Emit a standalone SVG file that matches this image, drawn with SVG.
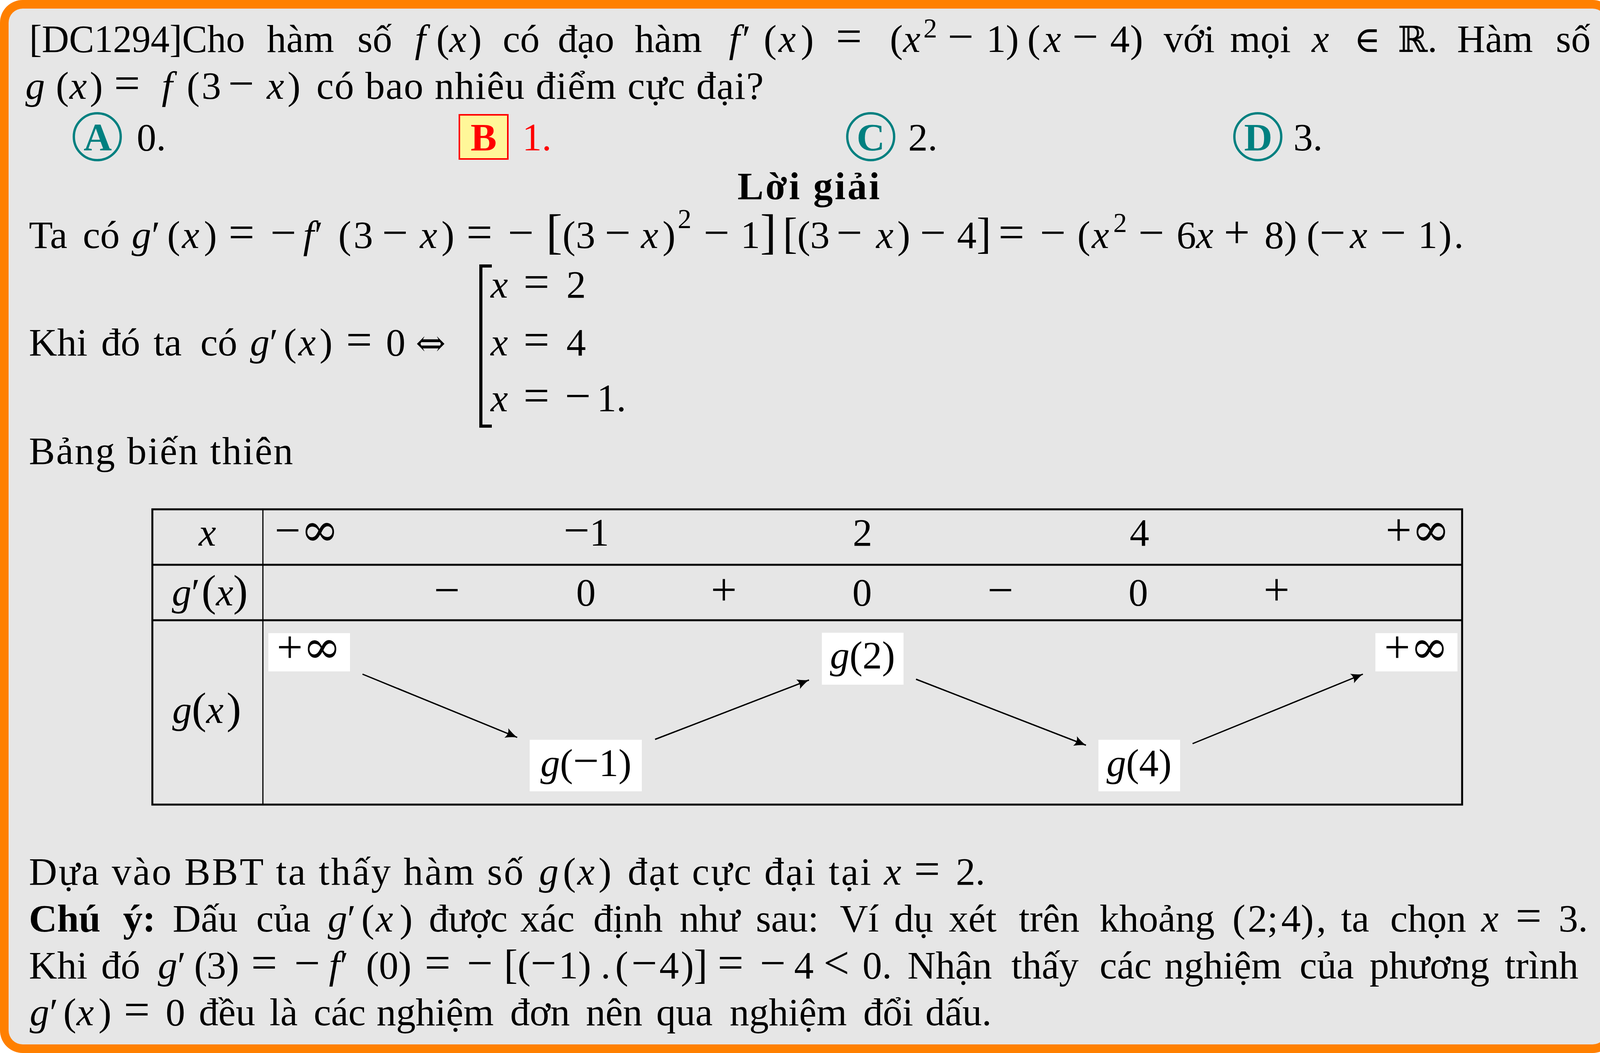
<svg xmlns="http://www.w3.org/2000/svg" width="4135" height="2696" viewBox="0 0 4135 2696">
<defs>
<style>
text{font-family:"Liberation Serif","DejaVu Serif",serif;font-size:100px;fill:#000}
.i{font-style:italic}
.b{font-weight:bold}
.op{font-size:118px}
.sym{font-family:"DejaVu Serif",serif;font-size:92px}
.inf{font-family:"DejaVu Serif",serif;font-size:118px}
.sup{font-size:70px}
.lab{font-weight:bold;fill:#008080;text-anchor:middle}
.ring{fill:none;stroke:#008080;stroke-width:6}
.grid{fill:none;stroke:#000;stroke-width:5}
.box{fill:#fff}
.mid{text-anchor:middle}
.end{text-anchor:end}
.arr{fill:none;stroke:#000;stroke-width:3.5;marker-end:url(#ah)}
</style>
<marker id="ah" markerUnits="userSpaceOnUse" markerWidth="40" markerHeight="30" viewBox="-34 -15 40 30" refX="0" refY="0" orient="auto">
<path d="M0,0 Q-14,-4 -30,-13 Q-22,0 -30,13 Q-14,4 0,0 Z" fill="#000"/>
</marker>
</defs>
<g id="frame">
<rect x="0" y="0" width="4135" height="2696" rx="58" fill="#ff8000"/>
<rect x="22" y="22" width="4091" height="2652" rx="36" fill="#e6e6e6"/>
</g>
<g id="question">
<text x="75" y="133" textLength="552" lengthAdjust="spacingAndGlyphs">[DC1294]Cho</text>
<text y="133"><tspan x="683">hàm</tspan><tspan x="915">số</tspan><tspan x="1062" class="i">f</tspan><tspan x="1117">(</tspan><tspan x="1150" class="i">x</tspan><tspan x="1200">)</tspan><tspan x="1287">có</tspan><tspan x="1428">đạo</tspan><tspan x="1625">hàm</tspan><tspan x="1866" class="i">f</tspan><tspan x="1900">′</tspan><tspan x="1955">(</tspan><tspan x="1993" class="i">x</tspan><tspan x="2050">)</tspan><tspan x="2140" class="op">=</tspan><tspan x="2278">(</tspan><tspan x="2312" class="i">x</tspan><tspan x="2364" y="96" class="sup">2</tspan><tspan x="2426" y="133" class="op">−</tspan><tspan x="2525">1</tspan><tspan x="2575">)</tspan><tspan x="2630">(</tspan><tspan x="2672" class="i">x</tspan><tspan x="2745" class="op">−</tspan><tspan x="2842">4</tspan><tspan x="2893">)</tspan><tspan x="2979">với</tspan><tspan x="3149">mọi</tspan><tspan x="3358" class="i">x</tspan><tspan x="3466" class="sym">∈</tspan><tspan x="3578" class="sym">ℝ</tspan><tspan>.</tspan><tspan x="3730">Hàm</tspan><tspan x="3983">số</tspan></text>
<text y="253"><tspan x="65" class="i">g</tspan><tspan x="143">(</tspan><tspan x="178" class="i">x</tspan><tspan x="230">)</tspan><tspan x="292" class="op">=</tspan><tspan x="414" class="i">f</tspan><tspan x="478">(</tspan><tspan x="516">3</tspan><tspan x="584" class="op">−</tspan><tspan x="683" class="i">x</tspan><tspan x="736">)</tspan></text>
<text x="810" y="253" textLength="1145">có bao nhiêu điểm cực đại?</text>
</g>
<g id="answer-A">
<circle class="ring" cx="249" cy="350" r="60"/>
<text class="lab" x="250" y="385">A</text>
<text x="350" y="385">0.</text>
</g>
<g id="answer-B">
<rect x="1176" y="294" width="124" height="113" fill="#fff799" stroke="#ff0000" stroke-width="4"/>
<text class="b mid" x="1238" y="385" style="fill:#ff0000">B</text>
<text x="1337" y="385" style="fill:#ff0000">1.</text>
</g>
<g id="answer-C">
<circle class="ring" cx="2229" cy="350" r="60"/>
<text class="lab" x="2229" y="385">C</text>
<text x="2325" y="385">2.</text>
</g>
<g id="answer-D">
<circle class="ring" cx="3220" cy="350" r="60"/>
<text class="lab" x="3221" y="385">D</text>
<text x="3311" y="385">3.</text>
</g>
<g id="solution">
<text x="1888" y="510" class="b" font-size="104" textLength="364">Lời giải</text>
<text y="635"><tspan x="74">Ta</tspan><tspan x="212">có</tspan><tspan x="337" class="i">g</tspan><tspan x="388">′</tspan><tspan x="428">(</tspan><tspan x="466" class="i">x</tspan><tspan x="522">)</tspan><tspan x="585" class="op">=</tspan><tspan x="692" class="op">−</tspan><tspan x="776" class="i">f</tspan><tspan x="805">′</tspan><tspan x="866">(</tspan><tspan x="905">3</tspan><tspan x="978" class="op">−</tspan><tspan x="1075" class="i">x</tspan><tspan x="1130">)</tspan><tspan x="1194" class="op">=</tspan><tspan x="1300" class="op">−</tspan><tspan x="1398" font-size="125">[</tspan><tspan x="1440">(</tspan><tspan x="1474">3</tspan><tspan x="1548" class="op">−</tspan><tspan x="1641" class="i">x</tspan><tspan x="1696">)</tspan><tspan x="1735" y="584" class="sup">2</tspan><tspan x="1801" y="635" class="op">−</tspan><tspan x="1896">1</tspan><tspan x="1946" font-size="125">]</tspan><tspan x="2004" font-size="112">[</tspan><tspan x="2041">(</tspan><tspan x="2074">3</tspan><tspan x="2141" class="op">−</tspan><tspan x="2243" class="i">x</tspan><tspan x="2297">)</tspan><tspan x="2355" class="op">−</tspan><tspan x="2450">4</tspan><tspan x="2500" font-size="112">]</tspan><tspan x="2556" class="op">=</tspan><tspan x="2662" class="op">−</tspan><tspan x="2758">(</tspan><tspan x="2795" class="i">x</tspan><tspan x="2850" y="594" class="sup">2</tspan><tspan x="2914" y="635" class="op">−</tspan><tspan x="3012">6</tspan><tspan x="3062" class="i">x</tspan><tspan x="3133" class="op">+</tspan><tspan x="3237">8</tspan><tspan x="3287">)</tspan><tspan x="3345">(</tspan><tspan x="3378" class="op">−</tspan><tspan x="3456" class="i">x</tspan><tspan x="3533" class="op">−</tspan><tspan x="3630">1</tspan><tspan x="3683">)</tspan><tspan x="3722">.</tspan></text>
<text y="910"><tspan x="74">Khi</tspan><tspan x="259">đó</tspan><tspan x="393">ta</tspan><tspan x="513">có</tspan><tspan x="640" class="i">g</tspan><tspan x="690">′</tspan><tspan x="726">(</tspan><tspan x="764" class="i">x</tspan><tspan x="818">)</tspan><tspan x="886" class="op">=</tspan><tspan x="988">0</tspan><tspan x="1064" class="sym">⇔</tspan></text>
<path d="M1259,681 H1231 V1091 H1259" fill="none" stroke="#000" stroke-width="8"/>
<text y="762"><tspan x="1256" class="i">x</tspan><tspan x="1340" class="op">=</tspan><tspan x="1450">2</tspan></text>
<text y="910"><tspan x="1256" class="i">x</tspan><tspan x="1340" class="op">=</tspan><tspan x="1450">4</tspan></text>
<text y="1053"><tspan x="1256" class="i">x</tspan><tspan x="1340" class="op">=</tspan><tspan x="1446" class="op">−</tspan><tspan x="1528">1</tspan><tspan x="1578">.</tspan></text>
<text x="74" y="1188" textLength="676">Bảng biến thiên</text>
</g>
<g id="table">
<rect class="grid" x="390" y="1304" width="3353" height="756"/>
<line class="grid" x1="390" y1="1446" x2="3743" y2="1446"/>
<line class="grid" x1="390" y1="1588" x2="3743" y2="1588"/>
<line x1="673" y1="1304" x2="673" y2="2060" stroke="#000" stroke-width="3"/>
<text class="i mid" x="531" y="1397">x</text>
<text y="1397"><tspan x="703" class="op">−</tspan><tspan class="inf">∞</tspan></text>
<text class="mid" x="1501" y="1397"><tspan class="op">−</tspan>1</text>
<text class="mid" x="2208" y="1397">2</text>
<text class="mid" x="2917" y="1397">4</text>
<text class="end" x="3712" y="1397"><tspan class="op">+</tspan><tspan class="inf">∞</tspan></text>
<text y="1550"><tspan x="440" class="i">g</tspan><tspan x="490">′</tspan><tspan x="516" font-size="112">(</tspan><tspan x="553" class="i">x</tspan><tspan x="597" font-size="112">)</tspan></text>
<text class="op mid" x="1144" y="1550">−</text>
<text class="mid" x="1500" y="1550">0</text>
<text class="op mid" x="1853" y="1550">+</text>
<text class="mid" x="2207" y="1550">0</text>
<text class="op mid" x="2561" y="1550">−</text>
<text class="mid" x="2914" y="1550">0</text>
<text class="op mid" x="3268" y="1550">+</text>
<text y="1851"><tspan x="441" class="i">g</tspan><tspan x="491" font-size="112">(</tspan><tspan x="528" class="i">x</tspan><tspan x="580" font-size="112">)</tspan></text>
<g id="v-pinf-left">
<rect class="box" x="687" y="1621" width="209" height="98"/>
<text class="mid" x="791" y="1697"><tspan class="op">+</tspan><tspan class="inf">∞</tspan></text>
</g>
<g id="v-g-1">
<rect class="box" x="1356" y="1894" width="287" height="132"/>
<text class="mid" x="1500" y="1987"><tspan class="i">g</tspan>(<tspan class="op">−</tspan>1)</text>
</g>
<g id="v-g2">
<rect class="box" x="2104" y="1620" width="209" height="133"/>
<text class="mid" x="2208" y="1711"><tspan class="i">g</tspan>(2)</text>
</g>
<g id="v-g4">
<rect class="box" x="2812" y="1894" width="209" height="132"/>
<text class="mid" x="2916" y="1987"><tspan class="i">g</tspan>(4)</text>
</g>
<g id="v-pinf-right">
<rect class="box" x="3521" y="1621" width="210" height="98"/>
<text class="mid" x="3626" y="1697"><tspan class="op">+</tspan><tspan class="inf">∞</tspan></text>
</g>
</g>
<g id="connectors">
<line class="arr" x1="928" y1="1726" x2="1324" y2="1888"/>
<line class="arr" x1="1677" y1="1893" x2="2071" y2="1741"/>
<line class="arr" x1="2345" y1="1739" x2="2780" y2="1908"/>
<line class="arr" x1="3053" y1="1904" x2="3489" y2="1726"/>
</g>
<g id="conclusion">
<text x="74" y="2265" textLength="1266">Dựa vào BBT ta thấy hàm số</text>
<text y="2265"><tspan x="1380" class="i">g</tspan><tspan x="1441">(</tspan><tspan x="1478" class="i">x</tspan><tspan x="1532">)</tspan></text>
<text x="1607" y="2265" textLength="623">đạt cực đại tại</text>
<text y="2265"><tspan x="2263" class="i">x</tspan><tspan x="2340" class="op">=</tspan><tspan x="2447">2.</tspan></text>
<text y="2385"><tspan x="74" class="b">Chú</tspan><tspan x="315" class="b">ý:</tspan><tspan x="442">Dấu</tspan><tspan x="656">của</tspan><tspan x="839" class="i">g</tspan><tspan x="889">′</tspan><tspan x="925">(</tspan><tspan x="962" class="i">x</tspan><tspan x="1023">)</tspan><tspan x="1098">được</tspan><tspan x="1332">xác</tspan><tspan x="1519">định</tspan><tspan x="1740">như</tspan><tspan x="1935">sau:</tspan><tspan x="2150">Ví</tspan><tspan x="2289">dụ</tspan><tspan x="2429">xét</tspan><tspan x="2608">trên</tspan><tspan x="2815">khoảng</tspan><tspan x="3155">(</tspan><tspan x="3194">2</tspan><tspan x="3244">;</tspan><tspan x="3280">4</tspan><tspan x="3330">)</tspan><tspan x="3370">,</tspan><tspan x="3433">ta</tspan><tspan x="3559">chọn</tspan><tspan x="3792" class="i">x</tspan><tspan x="3880" class="op">=</tspan><tspan x="3990">3.</tspan></text>
<text y="2505"><tspan x="74">Khi</tspan><tspan x="259">đó</tspan><tspan x="404" class="i">g</tspan><tspan x="454">′</tspan><tspan x="497">(</tspan><tspan x="529">3</tspan><tspan x="579">)</tspan><tspan x="643" class="op">=</tspan><tspan x="753" class="op">−</tspan><tspan x="842" class="i">f</tspan><tspan x="870">′</tspan><tspan x="937">(</tspan><tspan x="970">0</tspan><tspan x="1020">)</tspan><tspan x="1087" class="op">=</tspan><tspan x="1195" class="op">−</tspan><tspan x="1290" font-size="106">[</tspan><tspan x="1325">(</tspan><tspan x="1358" class="op">−</tspan><tspan x="1430">1</tspan><tspan x="1480">)</tspan><tspan x="1538">.</tspan><tspan x="1575">(</tspan><tspan x="1616" class="op">−</tspan><tspan x="1688">4</tspan><tspan x="1743">)</tspan><tspan x="1776" font-size="106">]</tspan><tspan x="1837" class="op">=</tspan><tspan x="1945" class="op">−</tspan><tspan x="2033">4</tspan><tspan x="2108" class="op">&lt;</tspan><tspan x="2208">0.</tspan><tspan x="2323">Nhận</tspan><tspan x="2589">thấy</tspan><tspan x="2815">các</tspan><tspan x="2981">nghiệm</tspan><tspan x="3327">của</tspan><tspan x="3506">phương</tspan><tspan x="3852">trình</tspan></text>
<text y="2625"><tspan x="76" class="i">g</tspan><tspan x="127">′</tspan><tspan x="162">(</tspan><tspan x="196" class="i">x</tspan><tspan x="252">)</tspan><tspan x="317" class="op">=</tspan><tspan x="424">0</tspan><tspan x="509">đều</tspan><tspan x="690">là</tspan><tspan x="803">các</tspan><tspan x="964">nghiệm</tspan><tspan x="1306">đơn</tspan><tspan x="1500">nên</tspan><tspan x="1680">qua</tspan><tspan x="1868">nghiệm</tspan><tspan x="2210">đổi</tspan><tspan x="2369">dấu.</tspan></text>
</g>
</svg>
